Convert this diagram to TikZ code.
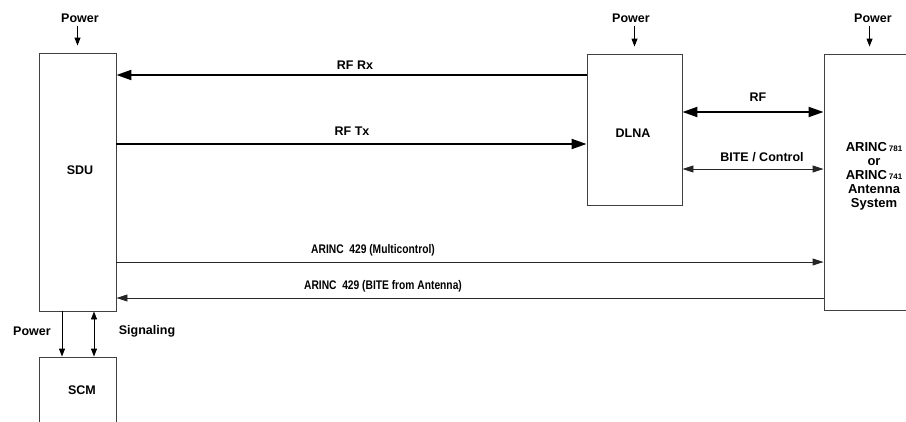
\documentclass[tikz,border=0pt]{standalone}
\usepackage{fontspec}
\setmainfont{Liberation Sans}
\newfontfamily\narrowfont[FakeStretch=0.82]{Liberation Sans}
\usetikzlibrary{arrows.meta}
\begin{document}
\begin{tikzpicture}[x=1pt,y=-1pt,
  box/.style={draw=black!75, line width=0.9pt, inner sep=0pt},
  lbl/.style={font=\fontsize{12.5}{14}\selectfont\bfseries, inner sep=0pt},
  nlbl/.style={font=\narrowfont\fontsize{12.5}{14}\selectfont\bfseries, inner sep=0pt},
  thin/.style={line width=0.9pt, draw=black!85},
  thk/.style={line width=2pt},
  tip/.style={-{Triangle[length=11pt,width=7pt]}},
  bigtip/.style={-{Triangle[length=15pt,width=10pt]}},
  dtip/.style={{Triangle[length=11pt,width=7pt]}-{Triangle[length=11pt,width=7pt]}},
  dbigtip/.style={{Triangle[length=15pt,width=10pt]}-{Triangle[length=15pt,width=10pt]}},
  ptip/.style={-{Triangle[length=8pt,width=6pt]}, line width=0.9pt}
]
\useasboundingbox (0,0) rectangle (906,421);
\clip (0,0) rectangle (906,421);
% boxes
\node[box, minimum width=77, minimum height=258] (sdu) at (77.5,182) {};
\node[box, minimum width=77, minimum height=100] (scm) at (77.5,407) {};
\node[box, minimum width=95, minimum height=151] (dlna) at (634.5,129.5) {};
\node[box, minimum width=140, minimum height=256] (ant) at (894,182) {};
% box texts
\node[lbl] (sdut) at (80,170) {SDU};
\node[lbl] (scmt) at (82,390) {SCM};
\node[lbl] (dlnat) at (633,133) {DLNA};
\node[align=center, inner sep=0pt, font=\fontsize{13}{14}\selectfont\bfseries] (antt) at (874,176)
  {ARINC\kern2pt{\fontsize{8}{9}\selectfont 781}\\ or\\ ARINC\kern2pt{\fontsize{8}{9}\selectfont 741}\\ Antenna\\ System};
% power inputs
\node[lbl] (p1) at (80,18) {Power};
\node[lbl] (p2) at (631,18) {Power};
\node[lbl] (p3) at (873,18) {Power};
\coordinate (p1e) at (sdu.north);
\coordinate (p2e) at (dlna.north);
\coordinate (p3e) at ([xshift=46pt]ant.north west);
\draw[ptip, shorten >=7pt] (p1e |- 0,26) -- (p1e);
\draw[ptip, shorten >=7pt] (p2e |- 0,26) -- (p2e);
\draw[ptip, shorten >=7pt] (p3e |- 0,26) -- (p3e);
% RF Rx / Tx
\draw[thk, bigtip] (dlna.west |- 0,75) -- (sdu.east |- 0,75);
\node[lbl] (rfrx) at (355,65) {RF Rx};
\draw[thk, bigtip] (sdu.east |- 0,144) -- (dlna.west |- 0,144);
\node[lbl] (rftx) at (352,131) {RF Tx};
% RF and BITE
\draw[thk, dbigtip] (dlna.east |- 0,112) -- (ant.west |- 0,112);
\node[lbl] (rf) at (758,97) {RF};
\draw[thin, dtip] (dlna.east |- 0,169) -- (ant.west |- 0,169);
\node[lbl] (bite) at (762,157) {BITE / Control};
% ARINC 429
\draw[thin, tip] (sdu.east |- 0,262) -- (ant.west |- 0,262);
\node[nlbl] (a1) at (373,250) {ARINC\ \ 429 (Multicontrol)};
\draw[thin, tip] (ant.west |- 0,298) -- (sdu.east |- 0,298);
\node[nlbl] (a2) at (383,286) {ARINC\ \ 429 (BITE from Antenna)};
% SDU - SCM
\draw[ptip] (sdu.south -| 62,0) -- (scm.north -| 62,0);
\draw[ptip, {Triangle[length=8pt,width=6pt]}-{Triangle[length=8pt,width=6pt]}] (sdu.south -| 94,0) -- (scm.north -| 94,0);
\node[lbl] (pw) at (32,331) {Power};
\node[lbl] (sig) at (147,331) {Signaling};
\end{tikzpicture}
\end{document}
